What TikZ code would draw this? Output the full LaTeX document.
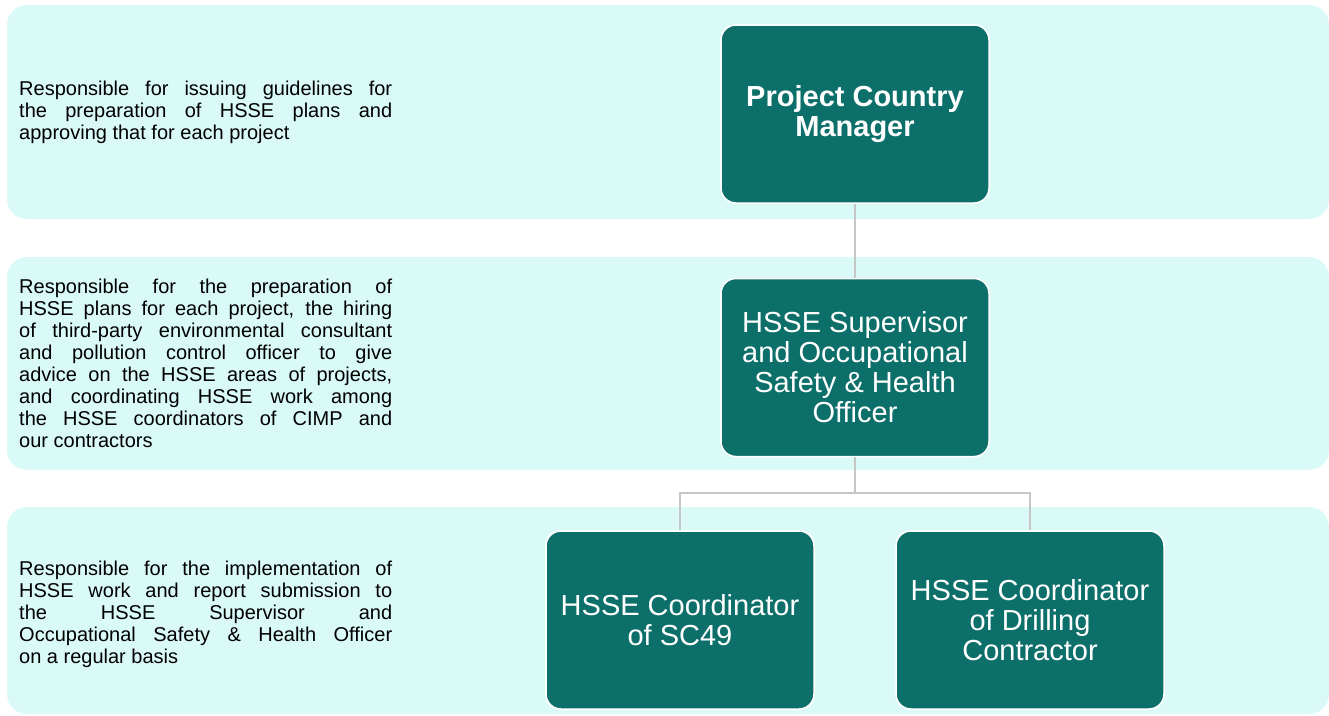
\documentclass[tikz,border=0pt]{standalone}
\usepackage{fontspec}
\setmainfont{Liberation Sans}
\usetikzlibrary{positioning}

\definecolor{bandfill}{HTML}{DAFAF8}
\definecolor{rolefill}{HTML}{0D6F69}
\definecolor{linkgray}{HTML}{C6C6C6}

\hyphenpenalty=10000
\exhyphenpenalty=10000

\begin{document}
\begin{tikzpicture}[
  x=1pt,y=-1pt,
  band/.style={fill=bandfill,rounded corners=20pt},
  role/.style={draw=white,line width=1.5pt,fill=rolefill,rounded corners=15pt,
    minimum width=268pt,minimum height=178pt,text=white,align=center,
    font=\fontsize{29}{30}\selectfont},
  duty/.style={anchor=west,inner sep=0pt,text width=373pt,align=justify,
    font=\fontsize{20}{22}\selectfont},
  link/.style={draw=linkgray,line width=2pt},
]
  \useasboundingbox (0,0) rectangle (1329,715);

  % three levels of the chart
  \fill[band] (7,5) rectangle (1329,219);
  \fill[band] (7,257) rectangle (1329,470);
  \fill[band] (7,507) rectangle (1329,714);

  % what each level is responsible for
  \node[duty] (d1) at (19,112) {Responsible for issuing guidelines for\linebreak
    the preparation of HSSE plans and\linebreak
    approving that for each project};
  \node[duty] (d2) at (19,363) {Responsible for the preparation of\linebreak
    HSSE plans for each project, the hiring\linebreak
    of third-party environmental consultant\linebreak
    and pollution control officer to give\linebreak
    advice on the HSSE areas of projects,\linebreak
    and coordinating HSSE work among\linebreak
    the HSSE coordinators of CIMP and\linebreak
    our contractors};
  \node[duty] (d3) at (19,614) {Responsible for the implementation of\linebreak
    HSSE work and report submission to\linebreak
    the HSSE Supervisor and\linebreak
    Occupational Safety \& Health Officer\linebreak
    on a regular basis};

  % org chart
  \node[role] (pcm) at (855,114) {\textbf{Project Country}\\\textbf{Manager}};
  \node[role,below=74pt of pcm] (sup) {HSSE Supervisor\\and Occupational\\Safety \& Health\\Officer};
  \node[role,below=73pt of sup,xshift=-175pt] (sc) {HSSE Coordinator\\of SC49};
  \node[role,below=73pt of sup,xshift=175pt] (drill) {HSSE Coordinator\\of Drilling\\Contractor};

  \draw[link] (pcm) -- (sup);
  \draw[link] (sup.south) -- ++(0,36) coordinate (fork) -| (sc.north);
  \draw[link] (fork) -| (drill.north);
\end{tikzpicture}
\end{document}
